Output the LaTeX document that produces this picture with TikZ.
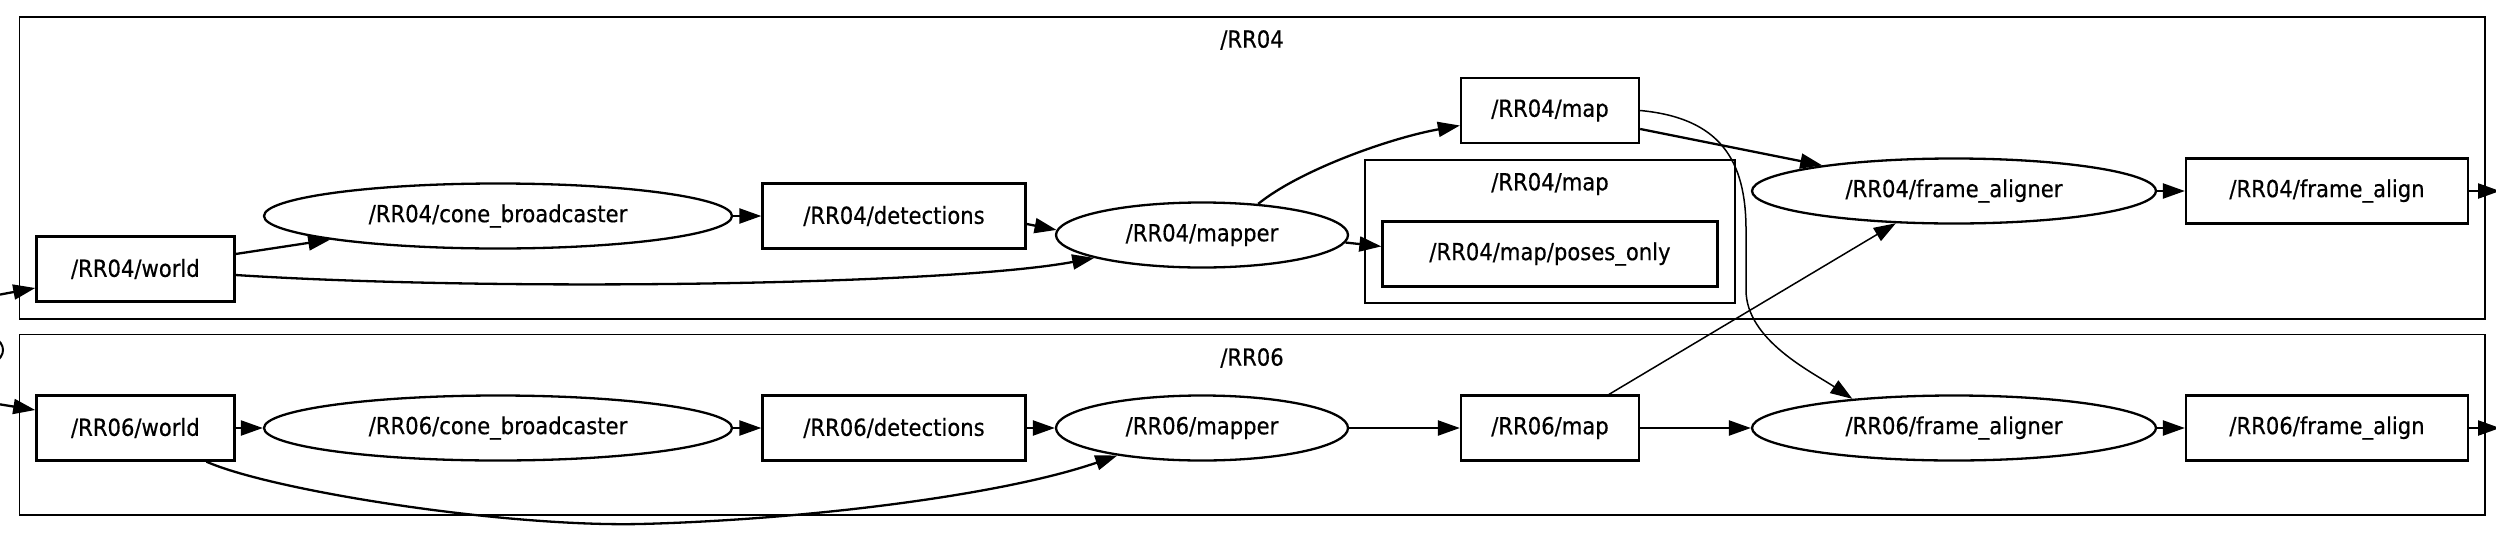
\documentclass[tikz,border=0pt]{standalone}
\usepackage{fontspec}
\setmainfont[UprightFeatures={FakeBold=0.5}]{DejaVu Sans Condensed}
\usetikzlibrary{shapes.geometric,arrows.meta}
\begin{document}
\begin{tikzpicture}[x=1pt,y=-1pt,
  every node/.style={font=\fontsize{23.5}{28}\selectfont, inner sep=0pt},
  boxnode/.style={draw, line width=2.3pt, rectangle, minimum width=#1, minimum height=65pt},
  ellnode/.style={draw, line width=2.3pt, ellipse, minimum width=#1, minimum height=65pt},
  clusterbox/.style={draw, line width=1.8pt},
  conn/.style={line width=2.3pt, -{Triangle[length=22pt,width=15pt]}},
  thinconn/.style={line width=1.5pt, -{Triangle[length=22pt,width=15pt]}},
]
\fill[white] (0,0) rectangle (2496,536);
\useasboundingbox (0,0) rectangle (2496,536);

% clusters
\draw[clusterbox] (19.4,17) rectangle (2485,319);
\draw[clusterbox] (19.4,334.5) rectangle (2485,515);
\draw[clusterbox] (1365,160) rectangle (1735,303);
\node (l4) at (1252,40) {/RR04};
\node (l6) at (1252,358) {/RR06};
\node (lm) at (1550,184) {/RR04/map};

% hidden source (clipped at left)
\node[draw, ellipse, line width=2pt, minimum width=206pt, minimum height=66pt] (src) at (-100,350) {};

% RR04 row
\node[boxnode=198pt] (w4) at (135.4,269) {/RR04/world};
\node[ellnode=468pt] (c4) at (498,216) {/RR04/cone\_broadcaster};
\node[boxnode=263pt] (d4) at (894,216) {/RR04/detections};
\node[ellnode=292pt] (m4) at (1202,235) {/RR04/mapper};
\node[boxnode=178pt] (p4) at (1550,110.5) {/RR04/map};
\node[boxnode=335pt] (po) at (1550,254) {/RR04/map/poses\_only};
\node[ellnode=404pt] (f4) at (1954,191) {/RR04/frame\_aligner};
\node[boxnode=282pt] (a4) at (2327,191) {/RR04/frame\_align};
\coordinate (o4) at (2500,191);

% RR06 row
\node[boxnode=198pt] (w6) at (135.4,428) {/RR06/world};
\node[ellnode=468pt] (c6) at (498,428) {/RR06/cone\_broadcaster};
\node[boxnode=263pt] (d6) at (894,428) {/RR06/detections};
\node[ellnode=292pt] (m6) at (1202,428) {/RR06/mapper};
\node[boxnode=178pt] (p6) at (1550,428) {/RR06/map};
\node[ellnode=404pt] (f6) at (1954,428) {/RR06/frame\_aligner};
\node[boxnode=282pt] (a6) at (2327,428) {/RR06/frame\_align};
\coordinate (o6) at (2500,428);

% edges RR04
\draw[conn] (src.60) .. controls (-40,302) .. ([yshift=-19pt]w4.west);
\draw[conn] (src.-60) .. controls (-40,398) .. ([yshift=18pt]w6.west);
\draw[conn] ([yshift=15pt]w4.east) -- (c4.188);
\draw[conn] ([yshift=-6pt]w4.east) .. controls (500,292) and (950,285) .. (m4.192);
\draw[conn] (c4.east) -- (d4.west);
\draw[conn] ([yshift=-8pt]d4.east) -- (m4.178);
\draw[conn] (m4.29) .. controls (1300,170) and (1390,138) .. ([yshift=-15pt]p4.west);
\draw[conn] (m4.-3) -- ([yshift=7.6pt]po.west);
\draw[conn] ([yshift=-18.5pt]p4.east) -- (f4.169.5);
\draw[thinconn] (p4.east) .. controls (1720,118) and (1746,160) .. (1746,230) -- (1746,290) .. controls (1746,340) and (1812,372) .. (f6.164.6);
\draw[thinconn] ([xshift=59pt]p6.north) -- (f4.209);
\draw[conn] (f4.east) -- (a4.west);
\draw[conn] (a4.east) -- (o4);

% edges RR06
\draw[conn] (w6.east) -- (c6.west);
\draw[conn] ([xshift=71pt]w6.south) .. controls (270,490) and (500,527) .. (640,524) .. controls (800,520) and (1000,496) .. (m6.198.8);
\draw[conn] (c6.east) -- (d6.west);
\draw[conn] (d6.east) -- (m6.west);
\draw[conn] (m6.east) -- (p6.west);
\draw[conn] (p6.east) -- (f6.west);
\draw[conn] (f6.east) -- (a6.west);
\draw[conn] (a6.east) -- (o6);
\end{tikzpicture}
\end{document}
